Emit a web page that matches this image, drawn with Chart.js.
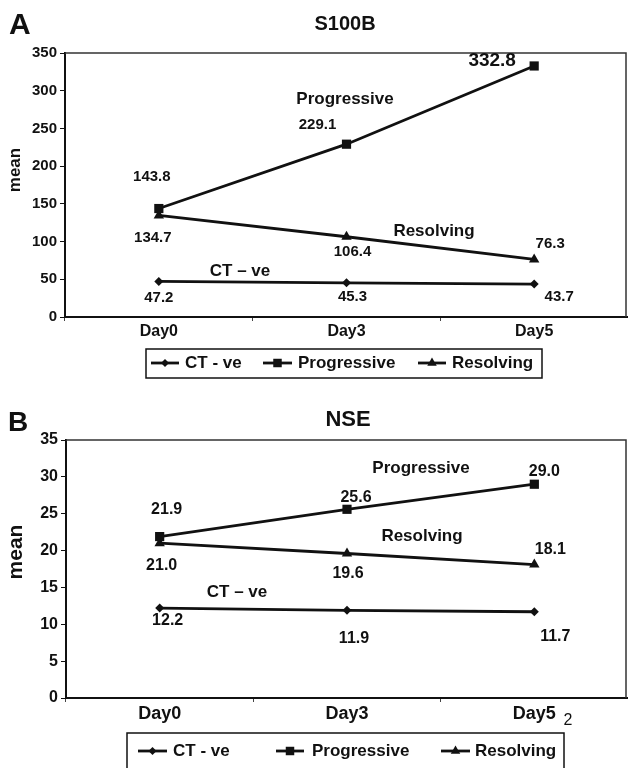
<!DOCTYPE html>
<html>
<head>
<meta charset="utf-8">
<script src="https://cdn.jsdelivr.net/npm/chart.js@4.4.1/dist/chart.umd.min.js"></script>
<style>
  html, body { margin: 0; padding: 0; background: #fff; overflow: hidden; }
  #wrapA { position: absolute; left: 0; top: 0; width: 628px; height: 385px; }
  #wrapB { position: absolute; left: 0; top: 385px; width: 628px; height: 383px; }
  canvas { display: block; }
</style>
</head>
<body>
<div id="wrapA"><canvas id="graficoS100B"></canvas></div>
<div id="wrapB"><canvas id="graficoNSE"></canvas></div>
<script>
// Dados
const dias = ['Day0', 'Day3', 'Day5'];
const nomesSeries = ['CT - ve', 'Progressive', 'Resolving'];

const s100bCT = [47.2, 45.3, 43.7];
const s100bProgressive = [143.8, 229.1, 332.8];
const s100bResolving = [134.7, 106.4, 76.3];
const s100bTicks = [0, 50, 100, 150, 200, 250, 300, 350];

const nseCT = [12.2, 11.9, 11.7];
const nseProgressive = [21.9, 25.6, 29.0];
const nseResolving = [21.0, 19.6, 18.1];
const nseTicks = [0, 5, 10, 15, 20, 25, 30, 35];

const FONTE = "'Liberation Sans', Arial, sans-serif";
const COR = '#111';
const estilos = ['rectRot', 'rect', 'triangle'];
const raios = [4.5, 6.5, 6];

function desenhaMarcador(ctx, estilo, x, y, r) {
    ctx.beginPath();
    if (estilo === 'rectRot') {
        ctx.moveTo(x - r, y); ctx.lineTo(x, y - r); ctx.lineTo(x + r, y); ctx.lineTo(x, y + r);
    } else if (estilo === 'rect') {
        const s = r * Math.SQRT1_2;
        ctx.rect(x - s, y - s, 2 * s, 2 * s);
    } else {
        const h = r * Math.sqrt(3) / 2;
        ctx.moveTo(x, y - r); ctx.lineTo(x + h, y + r / 2); ctx.lineTo(x - h, y + r / 2);
    }
    ctx.closePath();
    ctx.fill();
}

// Plugin com título, rótulos, anotações e legenda em caixa
function criaExtras(cfg) {
    return {
        id: 'extras',
        beforeDatasetsDraw(chart) {
            const { ctx, chartArea: a } = chart;
            ctx.save();
            ctx.strokeStyle = '#333';
            ctx.lineWidth = 1.5;
            ctx.beginPath();
            ctx.moveTo(a.left, a.top);
            ctx.lineTo(a.right - 2, a.top);
            ctx.lineTo(a.right - 2, a.bottom);
            ctx.stroke();
            ctx.restore();
        },
        afterDraw(chart) {
            const ctx = chart.ctx;
            ctx.save();
            ctx.fillStyle = COR;
            ctx.textBaseline = 'middle';

            ctx.textAlign = 'left';
            ctx.font = `bold ${cfg.letra.size}px ${FONTE}`;
            ctx.fillText(cfg.letra.texto, cfg.letra.x, cfg.letra.y);

            ctx.textAlign = 'center';
            ctx.font = `bold ${cfg.titulo.size}px ${FONTE}`;
            ctx.fillText(cfg.titulo.texto, cfg.titulo.x, cfg.titulo.y);

            ctx.save();
            ctx.translate(cfg.eixoY.x, cfg.eixoY.y);
            ctx.rotate(-Math.PI / 2);
            ctx.font = `bold ${cfg.eixoY.size}px ${FONTE}`;
            ctx.fillText('mean', 0, 0);
            ctx.restore();

            ctx.font = `bold ${cfg.tamAnotacao}px ${FONTE}`;
            cfg.anotacoes.forEach(an => ctx.fillText(an[0], an[1], an[2]));

            // rótulos de valor junto aos pontos
            chart.data.datasets.forEach((ds, i) => {
                const meta = chart.getDatasetMeta(i);
                meta.data.forEach((p, j) => {
                    const off = cfg.deslocamentos[i][j];
                    let tam = cfg.tamValor;
                    if (cfg.valorGrande && cfg.valorGrande[0] === i && cfg.valorGrande[1] === j) tam = cfg.valorGrande[2];
                    ctx.font = `bold ${tam}px ${FONTE}`;
                    ctx.fillText(ds.data[j].toFixed(1), p.x + off[0], p.y + off[1]);
                });
            });

            if (cfg.extra) {
                ctx.font = `${cfg.extra.size}px ${FONTE}`;
                ctx.fillText(cfg.extra.texto, cfg.extra.x, cfg.extra.y);
            }

            // legenda
            const L = cfg.legenda;
            ctx.strokeStyle = COR;
            ctx.lineWidth = 1.5;
            ctx.strokeRect(L.x, L.y, L.w, L.h);
            ctx.textAlign = 'left';
            ctx.font = `bold ${L.size}px ${FONTE}`;
            L.itens.forEach((it, i) => {
                ctx.lineWidth = 2.8;
                ctx.beginPath();
                ctx.moveTo(it.x0, L.cy);
                ctx.lineTo(it.x1, L.cy);
                ctx.stroke();
                desenhaMarcador(ctx, estilos[i], (it.x0 + it.x1) / 2, L.cy, raios[i] - 0.5);
                ctx.fillText(nomesSeries[i], it.tx, L.cy);
            });
            ctx.restore();
        }
    };
}

function criaGrafico(id, valores, ticks, cfg) {
    const ctx = document.getElementById(id).getContext('2d');
    return new Chart(ctx, {
        type: 'line',
        data: {
            labels: dias,
            datasets: valores.map((v, i) => ({
                label: nomesSeries[i],
                data: v,
                borderColor: COR,
                backgroundColor: COR,
                borderWidth: 2.8,
                tension: 0,
                clip: false,
                pointStyle: estilos[i],
                pointRadius: raios[i],
                pointHoverRadius: raios[i],
                pointBorderWidth: 0
            }))
        },
        options: {
            responsive: true,
            maintainAspectRatio: false,
            animation: false,
            layout: { padding: cfg.padding, autoPadding: false },
            scales: {
                x: {
                    offset: true,
                    grid: { display: true, offset: true, drawOnChartArea: false, tickLength: 4, color: '#444' },
                    border: { display: true, color: COR, width: 2 },
                    ticks: { color: COR, padding: 1, maxRotation: 0, font: { family: FONTE, size: cfg.tamDia, weight: 'bold' } },
                    afterFit: s => { s.height = cfg.alturaX; s.paddingLeft = 0; s.paddingRight = 0; }
                },
                y: {
                    min: ticks[0],
                    max: ticks[ticks.length - 1],
                    afterBuildTicks: s => { s.ticks = ticks.map(v => ({ value: v })); },
                    grid: { drawOnChartArea: false, tickLength: 5, color: COR },
                    border: { display: true, color: COR, width: 2 },
                    ticks: { color: COR, padding: 3, font: { family: FONTE, size: cfg.tamTick, weight: 'bold' } },
                    afterFit: s => { s.width = cfg.larguraY; s.paddingTop = 0; s.paddingBottom = 0; }
                }
            },
            plugins: { legend: { display: false }, tooltip: { enabled: false } }
        },
        plugins: [criaExtras(cfg)]
    });
}

criaGrafico('graficoS100B', [s100bCT, s100bProgressive, s100bResolving], s100bTicks, {
    padding: { top: 53, right: 0, bottom: 38, left: 0 },
    larguraY: 65, alturaX: 30,
    tamTick: 15, tamDia: 16, tamValor: 15, tamAnotacao: 17,
    valorGrande: [1, 2, 19],
    titulo: { texto: 'S100B', x: 345, y: 24, size: 20 },
    letra: { texto: 'A', x: 9, y: 26, size: 30 },
    eixoY: { x: 15, y: 170, size: 17 },
    anotacoes: [['Progressive', 345, 99], ['Resolving', 434, 231], ['CT – ve', 240, 271]],
    deslocamentos: [
        [[0, 16], [6, 14], [25, 13]],
        [[-7, -32], [-29, -19], [-42, -5]],
        [[-6, 22], [6, 15], [16, -16]]
    ],
    legenda: {
        x: 146, y: 349, w: 396, h: 29, cy: 363, size: 17,
        itens: [{ x0: 151, x1: 179, tx: 185 }, { x0: 263, x1: 292, tx: 298 }, { x0: 418, x1: 446, tx: 452 }]
    }
});

criaGrafico('graficoNSE', [nseCT, nseProgressive, nseResolving], nseTicks, {
    padding: { top: 55, right: 0, bottom: 36, left: 0 },
    larguraY: 66, alturaX: 34,
    tamTick: 16, tamDia: 18, tamValor: 16, tamAnotacao: 17,
    titulo: { texto: 'NSE', x: 348, y: 35, size: 22 },
    letra: { texto: 'B', x: 8, y: 38, size: 28 },
    eixoY: { x: 16, y: 167, size: 21 },
    anotacoes: [['Progressive', 421, 83], ['Resolving', 422, 151], ['CT – ve', 237, 207]],
    deslocamentos: [
        [[8, 13], [7, 28], [21, 25]],
        [[7, -27], [9, -12], [10, -13]],
        [[2, 22], [1, 20], [16, -15]]
    ],
    extra: { texto: '2', x: 568, y: 336, size: 16 },
    legenda: {
        x: 127, y: 348, w: 437, h: 40, cy: 366, size: 17,
        itens: [{ x0: 138, x1: 167, tx: 173 }, { x0: 276, x1: 304, tx: 312 }, { x0: 441, x1: 470, tx: 475 }]
    }
});
</script>
</body>
</html>
